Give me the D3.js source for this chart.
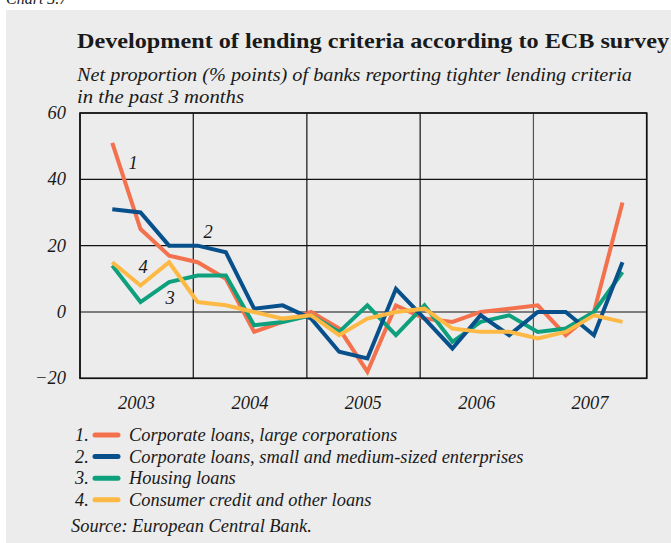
<!DOCTYPE html>
<meta charset="utf-8">
<html>
<head>
    <title>Lending criteria</title>
    <script src="https://cdn.jsdelivr.net/npm/d3@7"></script>
</head>
<style>
    body { margin: 0; background: white; }
    svg { display: block; }
    text { font-family: "Liberation Serif", "DejaVu Serif", serif; fill: #1a1a1a; }
</style>
<body>
<svg width="671" height="543"></svg>
<script>
    // survey dates (quarterly)
    let dates = ["2003-04-15","2003-07-15","2003-10-15","2004-01-15","2004-04-15","2004-07-15",
        "2004-10-15","2005-01-15","2005-04-15","2005-07-15","2005-10-15","2006-01-15","2006-04-15",
        "2006-07-15","2006-10-15","2007-01-15","2007-04-15","2007-07-15","2007-10-15"]
    let largeCorp   = [51, 25, 17, 15, 10, -6, -3, 0, -5, -18, 2, -2, -3, 0, 1, 2, -7, 0, 33]
    let smeCorp     = [31, 30, 20, 20, 18, 1, 2, -2, -12, -14, 7, -2, -11, -1, -7, 0, 0, -7, 15]
    let housing     = [14, 3, 9, 11, 11, -4, -3, -1, -6, 2, -7, 2, -9, -3, -1, -6, -5, 0, 12]
    let consumer    = [15, 8, 15, 3, 2, 0, -2, -1, -7, -2, 0, 1, -5, -6, -6, -8, -6, -1, -3]
    let yTicks = [60, 40, 20, 0, -20]
    let years = ["2003", "2004", "2005", "2006", "2007"]
    let legendNames = ["Corporate loans, large corporations",
        "Corporate loans, small and medium-sized enterprises",
        "Housing loans",
        "Consumer credit and other loans"]

    let series = [
        {name: legendNames[0], values: largeCorp, color: "#f3714d"},
        {name: legendNames[1], values: smeCorp, color: "#07508c"},
        {name: legendNames[2], values: housing, color: "#0ea07c"},
        {name: legendNames[3], values: consumer, color: "#fdb944"}
    ]

    let svg = d3.select("svg")

    // background panel
    svg.append("rect").attr("x", 6).attr("y", 10).attr("width", 665).attr("height", 533).attr("fill", "#ececec")
    svg.append("text").attr("x", 6).attr("y", 4).style("font-style", "italic").style("font-size", "16px").text("Chart 3.7")

    // titles
    svg.append("text").attr("x", 77).attr("y", 48)
        .style("font-weight", "bold").style("font-size", "21px")
        .attr("textLength", 592).attr("lengthAdjust", "spacingAndGlyphs")
        .text("Development of lending criteria according to ECB survey")
    svg.append("text").attr("x", 77).attr("y", 81)
        .style("font-style", "italic").style("font-size", "19px")
        .attr("textLength", 555).attr("lengthAdjust", "spacingAndGlyphs")
        .text("Net proportion (% points) of banks reporting tighter lending criteria")
    svg.append("text").attr("x", 77).attr("y", 103)
        .style("font-style", "italic").style("font-size", "19px")
        .attr("textLength", 167).attr("lengthAdjust", "spacingAndGlyphs")
        .text("in the past 3 months")

    let parse = d3.timeParse("%Y-%m-%d")
    let x = d3.scaleTime().domain([parse("2003-01-01"), parse("2008-01-01")]).range([80, 646.7])
    let y = d3.scaleLinear().domain([-20, 60]).range([378.3, 113])

    let plot = svg.append("g")

    // gridlines
    plot.selectAll(".hgrid").data(yTicks).enter().append("line")
        .attr("x1", 80).attr("x2", 646.7)
        .attr("y1", d => y(d)).attr("y2", d => y(d))
        .attr("stroke", "#111").attr("stroke-width", 1.2)
    let yearStarts = years.map(s => parse(s + "-01-01")).concat([parse("2008-01-01")])
    plot.selectAll(".vgrid").data(yearStarts).enter().append("line")
        .attr("x1", d => x(d)).attr("x2", d => x(d))
        .attr("y1", 113).attr("y2", 378.3)
        .attr("stroke", (d, i) => i == 4 ? "#555" : "#111").attr("stroke-width", 1.2)
    plot.append("rect").attr("x", 80).attr("y", 113).attr("width", 566.7).attr("height", 265.3)
        .attr("fill", "none").attr("stroke", "#111").attr("stroke-width", 1.6)

    // y tick labels
    plot.selectAll(".ylab").data(yTicks).enter().append("text")
        .attr("x", 66).attr("y", d => y(d) + 6)
        .attr("text-anchor", "end")
        .style("font-style", "italic").style("font-size", "18.5px")
        .text(d => d < 0 ? "\u2212" + Math.abs(d) : d)

    // x labels centred in each year
    plot.selectAll(".xlab").data(years).enter().append("text")
        .attr("x", d => x(parse(d + "-07-02")))
        .attr("y", 409)
        .attr("text-anchor", "middle")
        .style("font-style", "italic").style("font-size", "18.5px")
        .text(d => d)

    // lines (draw 4 last so the order matches)
    let line = d3.line().x((d, i) => x(parse(dates[i]))).y(d => y(d))
    plot.selectAll(".series").data([series[0], series[2], series[1], series[3]]).enter().append("path")
        .attr("d", d => line(d.values))
        .attr("fill", "none")
        .attr("stroke", d => d.color)
        .attr("stroke-width", 4)
        .attr("stroke-linejoin", "miter")

    // series labels in plot
    let inLabels = [["1", 133, 169], ["2", 208, 238], ["4", 143, 273], ["3", 170, 304]]
    plot.selectAll(".inlab").data(inLabels).enter().append("text")
        .attr("x", d => d[1]).attr("y", d => d[2])
        .attr("text-anchor", "middle")
        .style("font-style", "italic").style("font-size", "18.5px")
        .text(d => d[0])

    // legend
    let legend = svg.append("g")
    let rows = legend.selectAll("g").data(series).enter().append("g")
        .attr("transform", (d, i) => "translate(0," + (435 + i * 21.6) + ")")
    rows.append("text").attr("x", 75).attr("y", 6)
        .style("font-style", "italic").style("font-size", "18.4px")
        .text((d, i) => (i + 1) + ".")
    rows.append("line").attr("x1", 95).attr("x2", 118).attr("y1", 0).attr("y2", 0)
        .attr("stroke", d => d.color).attr("stroke-width", 5).attr("stroke-linecap", "round")
    rows.append("text").attr("x", 129).attr("y", 6)
        .style("font-style", "italic").style("font-size", "18.4px")
        .text(d => d.name)

    svg.append("text").attr("x", 71).attr("y", 532)
        .style("font-style", "italic").style("font-size", "18.4px")
        .text("Source: European Central Bank.")
</script>
</body>
</html>
